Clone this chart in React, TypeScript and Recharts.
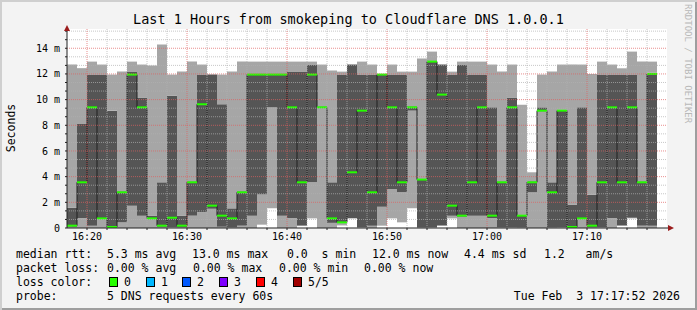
import React from 'react';
import { ComposedChart, Bar, Line, XAxis, YAxis, ReferenceLine } from 'recharts';

// five sorted DNS pings (ms) per minute, 16:18 .. 17:17 (last minute not in yet)
const ping1 = [0, 0, 0, 0, 0, 0, 0, 0, 0, 0, 0, 0, 0, 0, 0, 0, 0, 0, 0, 0.26, 1.53, 0, 0, 0.15, 0.75, 0, 0, 0.2, 0.75, 0, 0, 0.18, 0.75, 0.44, 1.53, 0, 0, 0.18, 0.75, 0, 0, 0, 0, 0, 0, 0, 0, 0, 0, 0, 0, 0, 0, 0, 0, 0.18, 0.75, 0, 0, null];
const ping2 = [0.1, 0.75, 0.18, 0.7, 0.05, 0.44, 1.74, 0.96, 0.7, 0.1, 0.05, 0.05, 0.96, 1.22, 1.5, 0.1, 0.05, 0.18, 0.96, 2.6, 9.4, 0.96, 0.75, 0.2, 3.56, 9.35, 0.4, 0.4, 0.76, 0.05, 0.18, 1.66, 3.04, 2.78, 9.14, 0.05, 0.05, 0.2, 0.96, 0.9, 0.96, 0.96, 0.75, 0.05, 0.05, 0.05, 2.78, 9.1, 0.05, 0.05, 0.02, 0.7, 0.05, 0.05, 0.75, 0.2, 0.8, 0.18, 0.18, null];
const medianRtt = [0.18, 3.56, 9.4, 0.75, 0.08, 2.78, 11.95, 9.4, 0.75, 0.18, 0.8, 0.18, 3.56, 9.64, 1.74, 0.96, 0.75, 2.78, 11.95, 11.95, 11.95, 11.95, 9.4, 3.56, 11.95, 9.4, 0.75, 0.44, 4.34, 9.14, 2.78, 11.95, 9.4, 3.56, 9.4, 3.77, 12.96, 10.39, 1.74, 0.96, 3.56, 9.4, 0.96, 3.56, 9.4, 0.96, 3.56, 9.14, 2.78, 9.14, 0.08, 0.75, 0.18, 3.56, 9.4, 3.56, 9.4, 3.56, 12.0, null];
const ping4 = [1.58, 8.13, 11.95, 11.95, 9.14, 2.8, 12.18, 10.13, 0.96, 3.56, 10.3, 0.96, 3.6, 11.95, 11.95, 9.64, 1.53, 2.8, 11.95, 11.95, 11.95, 11.95, 12.18, 12.18, 12.73, 9.45, 3.56, 11.95, 12.73, 11.95, 11.95, 11.95, 11.95, 11.95, 9.4, 3.82, 12.96, 12.73, 11.95, 12.73, 11.95, 11.95, 9.4, 3.6, 10.13, 0.96, 3.56, 9.4, 3.56, 9.2, 1.82, 9.4, 2.6, 11.95, 11.95, 11.95, 11.95, 3.6, 12.1, null];
const ping5 = [12.73, 12.45, 12.96, 12.73, 11.95, 12.18, 12.96, 12.73, 12.65, 14.29, 11.95, 12.18, 12.96, 12.73, 11.95, 11.95, 12.18, 12.96, 12.96, 12.96, 12.96, 12.96, 12.96, 12.96, 12.96, 12.73, 12.26, 12.18, 12.75, 12.96, 12.73, 12.0, 12.73, 12.18, 12.18, 13.2, 13.74, 12.73, 12.18, 12.96, 12.96, 12.96, 12.73, 12.18, 12.73, 9.6, 4.34, 11.95, 12.18, 12.73, 12.73, 12.73, 12.0, 12.96, 12.73, 12.44, 13.74, 12.96, 12.96, null];

const timeTicks = [2, 12, 22, 32, 42, 52]; // minutes after 16:18
const timeLabels = ['16:20', '16:30', '16:40', '16:50', '17:00', '17:10'];
const rttTicks = [0, 2, 4, 6, 8, 10, 12, 14];

const rttStats = ['5.3 ms avg', '13.0 ms max', '0.0  s min', '12.0 ms now', '4.4 ms sd', '1.2   am/s'];
const lossStats = ['0.00 % avg', '0.00 % max', '0.00 % min', '0.00 % now'];
const lossLabels = ['0', '1', '2', '3', '4', '5/5'];
const lossColors = ['#26ff00', '#00b8ff', '#0059ff', '#7e00ff', '#ff0000', '#a00000'];

const W = 697;
const H = 310;
const TOP = 29;
const LEFT = 67;
const PLOT_W = 600;
const PLOT_H = 199;
const Y_MAX = 15.5;
const LIGHT = '#a6a6a6';
const DARK = '#555555';
const MONO = "'DejaVu Sans Mono', monospace";

const rows = ping5.map((p5, i) => {
  if (p5 == null) return { slot: i, base: null, lo: null, mid: null, hi: null, median: null };
  return {
    slot: i,
    base: ping1[i],
    lo: ping2[i] - ping1[i],
    mid: ping4[i] - ping2[i],
    hi: p5 - ping4[i],
    median: medianRtt[i],
  };
});

const colW = PLOT_W / rows.length;

// grid positions
const minorY: number[] = [];
for (let k = 1; k * 2 / 3 <= Y_MAX; k++) if (k % 3 !== 0) minorY.push((k * 2) / 3);
const majorY = rttTicks.filter((v) => v > 0);
const minorX: number[] = [];
for (let m = 4; m < 60; m += 2) if (!timeTicks.includes(m)) minorX.push(m);
const yTickMarks = [0, ...minorY, ...majorY].sort((a, b) => a - b);
const xTickMarks = [...minorX, ...timeTicks].sort((a, b) => a - b);

const medianTick = (p: any) => {
  if (p.cy == null || p.value == null) return <g key={p.index} />;
  return <rect key={p.index} x={p.cx - colW / 2} y={p.cy - 1} width={colW} height={2} fill={lossColors[0]} />;
};

function Txt({ x, y, children, style }: { x: number; y: number; children: React.ReactNode; style?: React.CSSProperties }) {
  return (
    <div style={{ position: 'absolute', left: x, top: y - 7, lineHeight: '14px', fontFamily: MONO, fontSize: 11.5, whiteSpace: 'pre', color: '#000', ...style }}>
      {children}
    </div>
  );
}

export default function App() {
  const rttX = [107, 192, 287, 372, 464, 544];
  const lossX = [107, 193, 279, 364];
  const swatchX = [109, 146, 182, 219, 256, 293];

  return (
    <div
      style={{
        position: 'absolute',
        left: 0,
        top: 0,
        width: W,
        height: H,
        background: '#f3f3f3',
        boxShadow: 'inset 2px 2px 0 #cfcfcf, inset -2px -2px 0 #9e9e9e',
        overflow: 'hidden',
      }}
    >
      <div style={{ position: 'absolute', left: LEFT, top: TOP, width: PLOT_W, height: PLOT_H, background: '#fff' }} />

      {/* smoke + median */}
      <div style={{ position: 'absolute', left: 0, top: 0 }}>
        <ComposedChart width={W} height={H} data={rows} margin={{ top: TOP, right: W - LEFT - PLOT_W, bottom: H - TOP - PLOT_H, left: LEFT }} barCategoryGap={0} barGap={0}>
          <XAxis dataKey="slot" hide />
          <YAxis hide type="number" domain={[0, Y_MAX]} />
          <Bar dataKey="base" stackId="s" fill="none" isAnimationActive={false} />
          <Bar dataKey="lo" stackId="s" fill={LIGHT} isAnimationActive={false} />
          <Bar dataKey="mid" stackId="s" fill={DARK} isAnimationActive={false} />
          <Bar dataKey="hi" stackId="s" fill={LIGHT} isAnimationActive={false} />
          <Line dataKey="median" type="step" stroke="#202020" strokeWidth={1} dot={medianTick} activeDot={false} isAnimationActive={false} />
        </ComposedChart>
      </div>

      {/* grid and axes on top, like rrdtool */}
      <div style={{ position: 'absolute', left: 0, top: 0, pointerEvents: 'none' }}>
        <ComposedChart width={W} height={H} data={rows} margin={{ top: TOP, right: W - LEFT - PLOT_W, bottom: H - TOP - PLOT_H - 20, left: 0 }}>
          <XAxis
            type="number"
            dataKey="slot"
            domain={[0, 60]}
            ticks={xTickMarks}
            interval={0}
            tickFormatter={(v: number) => (timeTicks.includes(v) ? timeLabels[timeTicks.indexOf(v)] : '')}
            height={20}
            axisLine={{ stroke: '#202020' }}
            tickLine={{ stroke: '#202020' }}
            tickSize={2}
            tickMargin={3}
            tick={{ fontFamily: MONO, fontSize: 10, fill: '#000' }}
          />
          <YAxis
            type="number"
            domain={[0, Y_MAX]}
            ticks={yTickMarks}
            interval={0}
            width={LEFT}
            allowDataOverflow
            tickFormatter={(v: number) => (rttTicks.includes(v) ? (v === 0 ? '0' : `${v} m`) : '')}
            axisLine={{ stroke: '#202020' }}
            tickLine={{ stroke: '#202020' }}
            tickSize={2}
            tickMargin={5}
            tick={{ fontFamily: MONO, fontSize: 10, fill: '#000' }}
          />
          <Line dataKey="median" stroke="none" dot={false} activeDot={false} isAnimationActive={false} />
          {minorY.map((v) => (
            <ReferenceLine key={'my' + v} y={v} stroke="#b0b0b0" strokeOpacity={0.7} strokeDasharray="1 1" />
          ))}
          {minorX.map((v) => (
            <ReferenceLine key={'mx' + v} x={v} stroke="#b0b0b0" strokeOpacity={0.7} strokeDasharray="1 1" />
          ))}
          {majorY.map((v) => (
            <ReferenceLine key={'My' + v} y={v} stroke="#e06060" strokeOpacity={0.7} strokeDasharray="1 1" />
          ))}
          {timeTicks.map((v) => (
            <ReferenceLine key={'Mx' + v} x={v} stroke="#e06060" strokeOpacity={0.7} strokeDasharray="1 1" />
          ))}
        </ComposedChart>
      </div>

      {/* axis arrows */}
      <svg width={W} height={H} style={{ position: 'absolute', left: 0, top: 0 }}>
        <line x1={LEFT} y1={TOP} x2={LEFT} y2={TOP - 2} stroke="#202020" />
        <polygon points={`${LEFT - 3},${TOP + 2} ${LEFT + 3},${TOP + 2} ${LEFT},${TOP - 4}`} fill="#9b1c1c" />
        <line x1={LEFT + PLOT_W} y1={TOP + PLOT_H} x2={LEFT + PLOT_W + 3} y2={TOP + PLOT_H} stroke="#202020" />
        <polygon points={`${LEFT + PLOT_W + 1},${TOP + PLOT_H - 3} ${LEFT + PLOT_W + 1},${TOP + PLOT_H + 3} ${LEFT + PLOT_W + 7},${TOP + PLOT_H}`} fill="#9b1c1c" />
      </svg>

      <div style={{ position: 'absolute', left: 0, top: 10, width: W, textAlign: 'center', fontFamily: MONO, fontSize: 13.5, lineHeight: '18px', color: '#000' }}>
        Last 1 Hours from smokeping to Cloudflare DNS 1.0.0.1
      </div>

      <div style={{ position: 'absolute', left: 11, top: 128, transform: 'translate(-50%, -50%) rotate(-90deg)', fontFamily: MONO, fontSize: 11.5, whiteSpace: 'nowrap', color: '#000' }}>
        Seconds
      </div>

      <div style={{ position: 'absolute', left: 683, top: 4, writingMode: 'vertical-rl', fontFamily: MONO, fontSize: 9, color: '#b8b8b8', whiteSpace: 'nowrap' }}>
        RRDTOOL / TOBI OETIKER
      </div>

      <Txt x={16} y={254}>median rtt:</Txt>
      {rttStats.map((s, i) => (
        <Txt key={s} x={rttX[i]} y={254}>{s}</Txt>
      ))}
      <Txt x={16} y={268}>packet loss:</Txt>
      {lossStats.map((s, i) => (
        <Txt key={s} x={lossX[i]} y={268}>{s}</Txt>
      ))}
      <Txt x={16} y={282}>loss color:</Txt>
      {lossLabels.map((s, i) => (
        <React.Fragment key={s}>
          <div style={{ position: 'absolute', left: swatchX[i], top: 277, width: 7, height: 8, background: lossColors[i], border: '1px solid #000' }} />
          <Txt x={swatchX[i] + 15} y={282}>{s}</Txt>
        </React.Fragment>
      ))}
      <Txt x={16} y={296}>probe:</Txt>
      <Txt x={107} y={296}>5 DNS requests every 60s</Txt>
      <Txt x={0} y={296} style={{ left: 'auto', right: 17 }}>Tue Feb  3 17:17:52 2026</Txt>
    </div>
  );
}
